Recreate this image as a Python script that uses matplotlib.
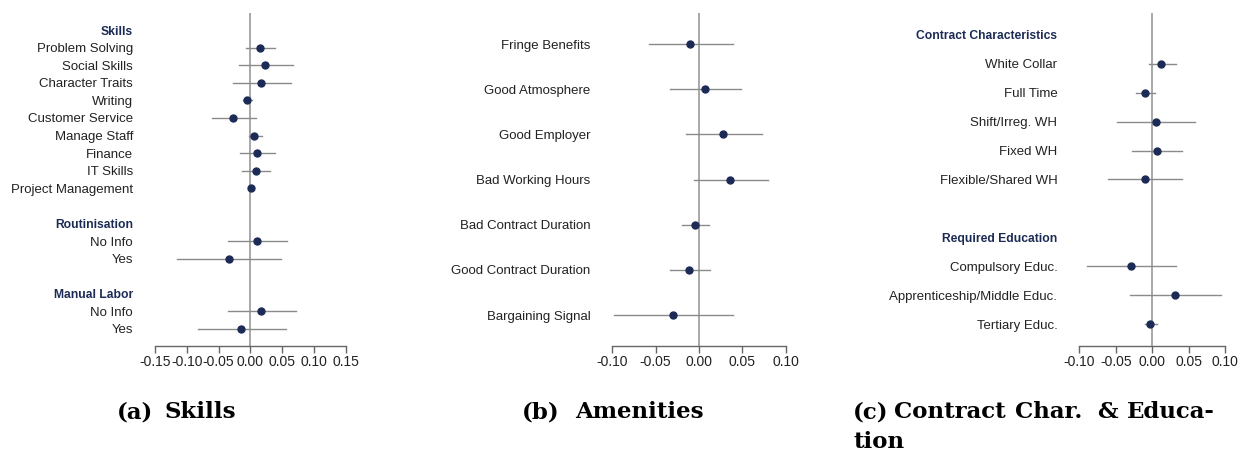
import matplotlib
matplotlib.use('Agg')
import matplotlib.pyplot as plt

plt.rcParams['font.family'] = ['Liberation Sans', 'DejaVu Sans']

# ---- data: (a) Skills ----
skills_labels = ['Problem Solving', 'Social Skills', 'Character Traits', 'Writing',
                 'Customer Service', 'Manage Staff', 'Finance', 'IT Skills',
                 'Project Management']
skills_est = [0.015, 0.023, 0.017, -0.006, -0.0275, 0.006, 0.010, 0.008, 0.001]
skills_lo = [-0.007, -0.018, -0.027, -0.011, -0.061, -0.003, -0.016, -0.013, -0.003]
skills_hi = [0.038, 0.066, 0.063, 0.003, 0.008, 0.018, 0.038, 0.030, 0.004]

rout_labels = ['No Info', 'Yes']
rout_est = [0.010, -0.034]
rout_lo = [-0.036, -0.115]
rout_hi = [0.058, 0.048]

manual_labels = ['No Info', 'Yes']
manual_est = [0.017, -0.015]
manual_lo = [-0.036, -0.083]
manual_hi = [0.072, 0.055]

# ---- data: (b) Amenities ----
amen_labels = ['Fringe Benefits', 'Good Atmosphere', 'Good Employer', 'Bad Working Hours',
               'Bad Contract Duration', 'Good Contract Duration', 'Bargaining Signal']
amen_est = [-0.010, 0.007, 0.028, 0.036, -0.005, -0.011, -0.030]
amen_lo = [-0.058, -0.033, -0.015, -0.006, -0.020, -0.033, -0.098]
amen_hi = [0.039, 0.048, 0.073, 0.080, 0.012, 0.013, 0.039]

# ---- data: (c) Contract characteristics & education ----
contr_labels = ['White Collar', 'Full Time', 'Shift/Irreg. WH', 'Fixed WH', 'Flexible/Shared WH']
contr_est = [0.0128, -0.0096, 0.0046, 0.006, -0.0105]
contr_lo = [-0.004, -0.022, -0.048, -0.0275, -0.061]
contr_hi = [0.0325, 0.0037, 0.0586, 0.041, 0.0416]

educ_labels = ['Compulsory Educ.', 'Apprenticeship/Middle Educ.', 'Tertiary Educ.']
educ_est = [-0.029, 0.0316, -0.003]
educ_lo = [-0.089, -0.031, -0.0105]
educ_hi = [0.0325, 0.095, 0.007]

NAVY = '#1c2b55'
GREY = '#8a8a8a'
W, H = 1258, 451


def build_rows(groups):
    # groups: list of (header, labels, est, lo, hi); header None = no header
    rows = []
    for k, (hdr, labs, est, lo, hi) in enumerate(groups):
        if k > 0:
            rows.append(('', None))
        if hdr is not None:
            rows.append((hdr, None))
        for i in range(len(labs)):
            rows.append((labs[i], (est[i], lo[i], hi[i])))
    return rows


def coef_panel(fig, rect, rows, xlim, xticks, pad_rows):
    ax = fig.add_axes(rect)
    n = len(rows)
    ys = [-i for i in range(n)]
    for y, (lab, val) in zip(ys, rows):
        if val is None:
            continue
        est, lo, hi = val
        ax.plot([lo, hi], [y, y], color=GREY, lw=1.0, zorder=2)
        ax.plot(est, y, 'o', color=NAVY, ms=5, zorder=3)
    ax.axvline(0, color='#9a9a9a', lw=1.2, zorder=1)
    ax.set_xlim(xlim)
    ax.set_ylim(-(n - 1) - pad_rows[1], pad_rows[0])
    ax.set_xticks(xticks)
    ax.set_xticklabels(['%.2f' % t for t in xticks], fontsize=10, color='#222222')
    ax.set_yticks(ys)
    ax.set_yticklabels([r[0] for r in rows], fontsize=9.5, color='#222222')
    for tl, (lab, val) in zip(ax.get_yticklabels(), rows):
        if val is None and lab:
            tl.set_fontweight('bold')
            tl.set_color(NAVY)
            tl.set_fontsize(8.7)
    for s in ['top', 'right', 'left']:
        ax.spines[s].set_visible(False)
    ax.spines['bottom'].set_color('#666666')
    ax.spines['bottom'].set_linewidth(1.0)
    ax.tick_params(axis='y', length=0, pad=15.8)
    ax.tick_params(axis='x', length=5, width=1.0, color='#666666', pad=2)
    ax.patch.set_visible(False)
    return ax


fig = plt.figure(figsize=(W / 100, H / 100), dpi=100)

bottom = (H - 345.7) / H
top = (H - 13) / H
height = top - bottom

rows_a = build_rows([('Skills', skills_labels, skills_est, skills_lo, skills_hi),
                     ('Routinisation', rout_labels, rout_est, rout_lo, rout_hi),
                     ('Manual Labor', manual_labels, manual_est, manual_lo, manual_hi)])
coef_panel(fig, [155 / W, bottom, 191 / W, height], rows_a, (-0.15, 0.15),
           [-0.15, -0.10, -0.05, 0.0, 0.05, 0.10, 0.15], (0.97, 0.95))

rows_b = build_rows([(None, amen_labels, amen_est, amen_lo, amen_hi)])
coef_panel(fig, [612.3 / W, bottom, 173.4 / W, height], rows_b, (-0.10, 0.10),
           [-0.10, -0.05, 0.0, 0.05, 0.10], (0.69, 0.68))

rows_c = build_rows([('Contract Characteristics', contr_labels, contr_est, contr_lo, contr_hi),
                     ('Required Education', educ_labels, educ_est, educ_lo, educ_hi)])
coef_panel(fig, [1079.3 / W, bottom, 145.7 / W, height], rows_c, (-0.10, 0.10),
           [-0.10, -0.05, 0.0, 0.05, 0.10], (0.76, 0.75))

# sub-captions, word by word (wide TeX spacing)
cap = dict(family='DejaVu Serif', fontweight='bold', fontsize=16.5, va='baseline', ha='left')
captions = [(116.5, 418, '(a)'), (165, 418, 'Skills'),
            (521.5, 418, '(b)'), (575, 418, 'Amenities'),
            (853, 418, '(c)'), (894, 418, 'Contract'), (1015, 418, 'Char.'),
            (1097, 418, '&'), (1127, 418, 'Educa-'),
            (853, 448, 'tion')]
for x, y, s in captions:
    fig.text(x / W, (H - y) / H, s, **cap)

fig.savefig('out.png', dpi=100)
